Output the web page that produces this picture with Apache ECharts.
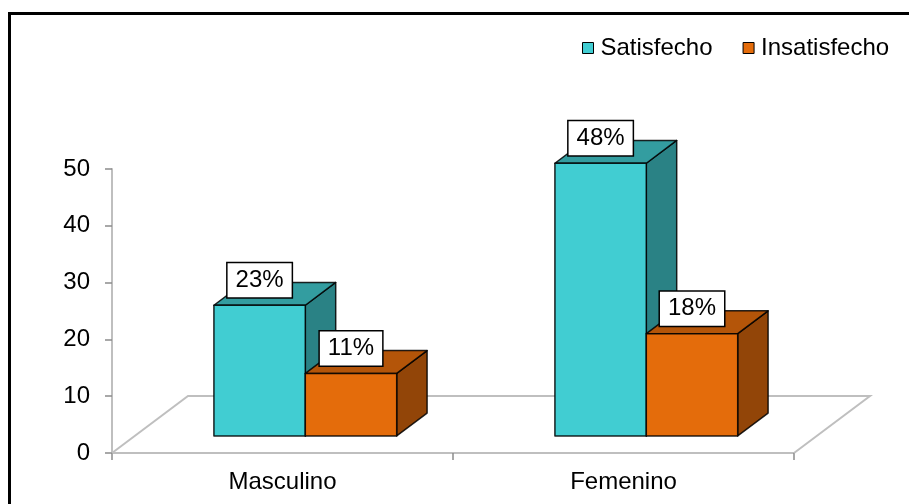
<!DOCTYPE html>
<html>
<head>
<meta charset="utf-8">
<script src="https://cdn.jsdelivr.net/npm/echarts@6/dist/echarts.min.js"></script>
<style>
  html, body { margin: 0; padding: 0; background: #fff; }
  #chart { width: 909px; height: 504px; }
</style>
</head>
<body>
<div id="chart"></div>
<script>
// Satisfacción por sexo (porcentajes)
const categories = ['Masculino', 'Femenino'];
const seriesNames = ['Satisfecho', 'Insatisfecho'];
const satisfecho = [23, 48];
const insatisfecho = [11, 18];
const yMin = 0, yMax = 50, yStep = 10;

// Colours for each series: front, top and side faces
const palette = {
  Satisfecho:   { front: '#41CDD2', top: '#339DA0', side: '#2A8285' },
  Insatisfecho: { front: '#E46C0B', top: '#B45509', side: '#924508' }
};

// Pseudo-3D floor depth (pixels) and bar placement within it
const FLOOR_DX = 76, FLOOR_DY = 57;
const FRONT_FRAC = 0.3, DEPTH_FRAC = 0.4;
const BAR_FRAC = 0.268;
const FONT = '"Liberation Sans", Arial, Helvetica, sans-serif';
const EDGE = 'rgba(0,0,0,0.85)';

function floorRenderer(params, api) {
  const cs = params.coordSys;
  const x0 = cs.x, x1 = cs.x + cs.width, y = cs.y + cs.height;
  return {
    type: 'polyline',
    silent: true,
    shape: { points: [[x0, y], [x0 + FLOOR_DX, y - FLOOR_DY], [x1 + FLOOR_DX, y - FLOOR_DY], [x1, y]] },
    style: { stroke: '#BFBFBF', lineWidth: 2, fill: null }
  };
}

function barRenderer(slot, colors) {
  return function (params, api) {
    const cat = api.value(0), val = api.value(1);
    const base = api.coord([cat, 0]);
    const top = api.coord([cat, val]);
    const band = api.size([1, 0])[0];
    const barW = band * BAR_FRAC;
    const fx = FLOOR_DX * FRONT_FRAC, fy = FLOOR_DY * FRONT_FRAC;
    const dx = FLOOR_DX * DEPTH_FRAC, dy = FLOOR_DY * DEPTH_FRAC;
    const x0 = base[0] - barW + fx + slot * barW;
    const x1 = x0 + barW;
    const yb = base[1] - fy, yt = top[1] - fy;
    const faceStyle = (fill) => ({ fill: fill, stroke: EDGE, lineWidth: 1.5, lineJoin: 'round' });
    return {
      type: 'group',
      children: [
        { type: 'polygon', shape: { points: [[x1, yb], [x1 + dx, yb - dy], [x1 + dx, yt - dy], [x1, yt]] }, style: faceStyle(colors.side) },
        { type: 'polygon', shape: { points: [[x0, yt], [x1, yt], [x1 + dx, yt - dy], [x0 + dx, yt - dy]] }, style: faceStyle(colors.top) },
        { type: 'polygon', shape: { points: [[x0, yb], [x1, yb], [x1, yt], [x0, yt]] }, style: faceStyle(colors.front) },
        {
          type: 'text', z2: 50,
          style: {
            text: val + '%', x: (x0 + x1) / 2, y: yt - 8,
            align: 'center', verticalAlign: 'bottom',
            font: '24px ' + FONT, fill: '#000', lineHeight: 24,
            backgroundColor: '#fff', borderColor: '#000', borderWidth: 1.5,
            padding: [5, 8]
          }
        }
      ]
    };
  };
}

const chart = echarts.init(document.getElementById('chart'), null, { renderer: 'canvas' });
chart.setOption({
  backgroundColor: '#fff',
  animation: false,
  color: [palette.Satisfecho.front, palette.Insatisfecho.front],
  graphic: [{
    type: 'rect', silent: true, z: -1,
    shape: { x: 9.5, y: 13.5, width: 1000, height: 600 },
    style: { fill: null, stroke: '#000', lineWidth: 3 }
  }],
  legend: {
    left: 577, top: 31,
    icon: 'rect', itemWidth: 11, itemHeight: 11, itemGap: 30,
    textStyle: { fontFamily: FONT, fontSize: 24, color: '#000', lineHeight: 24, padding: [0, 0, 0, 2] },
    data: seriesNames.map(n => ({ name: n, itemStyle: { color: palette[n].front, borderColor: '#000', borderWidth: 1 } }))
  },
  grid: { left: 112, right: 115, top: 169, bottom: 51 },
  xAxis: {
    type: 'category',
    data: categories,
    axisLine: { lineStyle: { color: '#BFBFBF', width: 2 } },
    axisTick: { show: true, length: 7, lineStyle: { color: '#8C8C8C', width: 1.5 } },
    axisLabel: { fontFamily: FONT, fontSize: 24, color: '#000', margin: 17 },
    splitLine: { show: false }
  },
  yAxis: {
    type: 'value',
    min: yMin, max: yMax, interval: yStep,
    axisLine: { show: true, lineStyle: { color: '#BFBFBF', width: 2 } },
    axisTick: { show: true, length: 7, lineStyle: { color: '#8C8C8C', width: 1.5 } },
    axisLabel: { fontFamily: FONT, fontSize: 24, color: '#000', margin: 22 },
    splitLine: { show: false }
  },
  series: [
    {
      name: 'floor', type: 'custom', silent: true, z: 1,
      renderItem: floorRenderer, data: [[0, 0]], legendHoverLink: false
    },
    {
      name: seriesNames[0], type: 'custom', z: 2,
      renderItem: barRenderer(0, palette.Satisfecho),
      itemStyle: { color: palette.Satisfecho.front },
      data: categories.map((c, i) => [i, satisfecho[i]])
    },
    {
      name: seriesNames[1], type: 'custom', z: 3,
      renderItem: barRenderer(1, palette.Insatisfecho),
      itemStyle: { color: palette.Insatisfecho.front },
      data: categories.map((c, i) => [i, insatisfecho[i]])
    }
  ]
});
</script>
</body>
</html>
